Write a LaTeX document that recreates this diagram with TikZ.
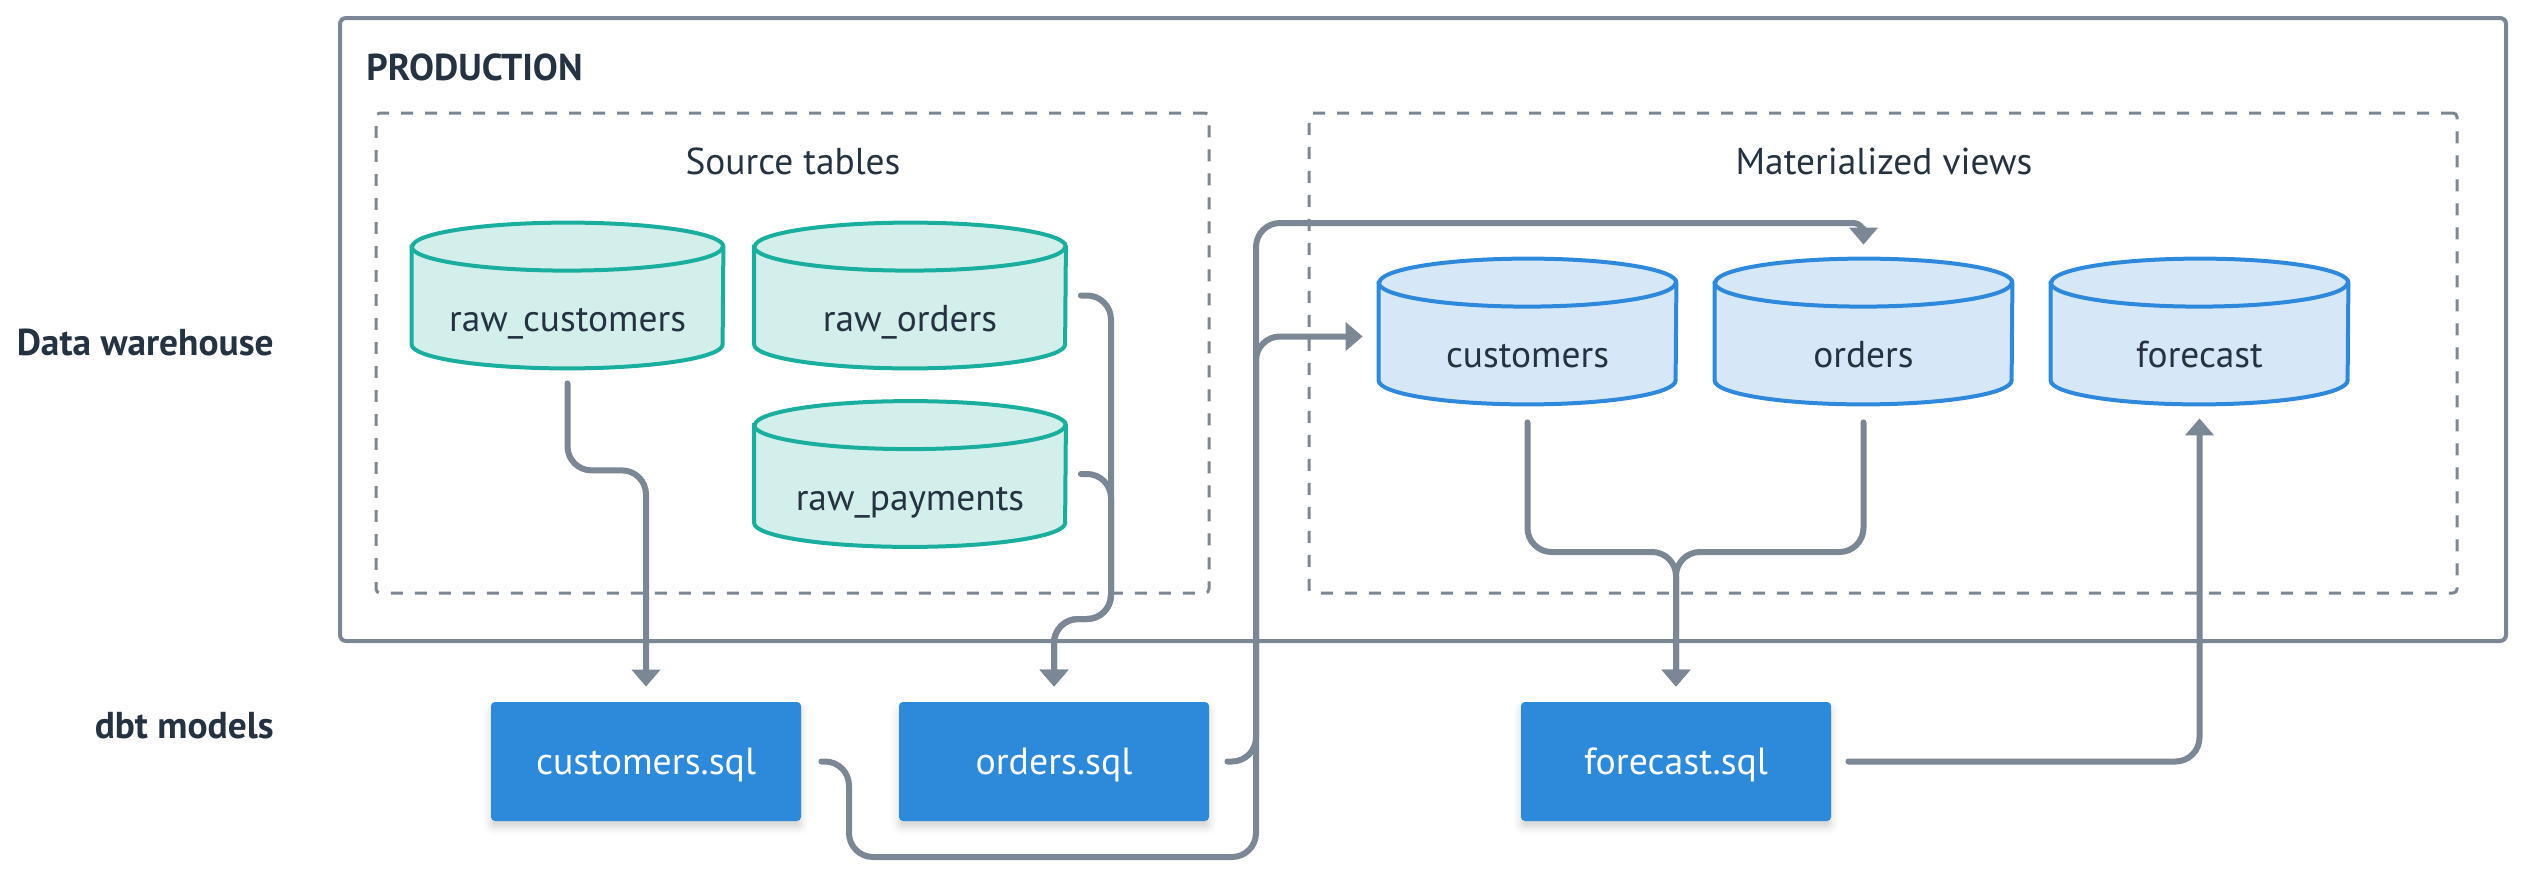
\documentclass[tikz,border=0pt]{standalone}
\usepackage{fontspec}
\setmainfont{PT Sans}
\usetikzlibrary{arrows.meta,calc,shadows.blur}
\definecolor{lineg}{HTML}{7B8794}
\definecolor{txt}{HTML}{243241}
\definecolor{tealS}{HTML}{1AAE9F}
\definecolor{tealF}{HTML}{D3EFEC}
\definecolor{blueS}{HTML}{2E88DB}
\definecolor{blueF}{HTML}{D6E7F7}
\definecolor{dbtF}{HTML}{2D89DA}
\newcommand\mycyl[4]{%
  \draw[fill=#2, draw=#3, line width=2pt]
    ($(#1.north west)+(0,24)$) -- ($(#1.south west)+(0,-24)$)
    arc[start angle=180, end angle=360, x radius=#4, y radius=12pt]
    -- ($(#1.north east)+(0,24)$)
    arc[start angle=0, end angle=180, x radius=#4, y radius=12pt] -- cycle;
  \draw[draw=#3, line width=2pt] ($(#1.north west)+(0,24)$)
    arc[start angle=180, end angle=360, x radius=#4, y radius=12pt];
}
\begin{document}
\begin{tikzpicture}[x=0.5pt,y=-0.5pt,
  lbl/.style={text=txt, font=\fontsize{18.7}{22}\selectfont, inner sep=0pt},
  blbl/.style={text=txt, font=\fontsize{18.7}{22}\selectfont\bfseries, inner sep=0pt},
  tcyl/.style={minimum width=155.5pt, minimum height=72.5pt, inner sep=0pt},
  bcyl/.style={minimum width=148.5pt, minimum height=72.5pt, inner sep=0pt},
  dbt/.style={fill=dbtF, rounded corners=2pt, minimum width=155pt, minimum height=59.5pt,
    text=white, font=\fontsize{18.9}{22}\selectfont, inner sep=0pt, text depth=0pt,
    blur shadow={shadow xshift=0pt, shadow yshift=-3pt, shadow opacity=18, shadow blur radius=4pt}},
  grp/.style={draw=lineg, line width=1.5pt, dash pattern=on 6pt off 6pt, rounded corners=2pt, inner sep=0pt},
  conn/.style={draw=lineg, line width=3pt, line cap=round, rounded corners=12pt,
    -{Triangle[length=8.5pt,width=14pt]}},
]
\useasboundingbox (0,0) rectangle (2524,884);
% frames
\node[draw=lineg, line width=2pt, rounded corners=3pt, minimum width=1083pt, minimum height=311.5pt, inner sep=0pt] (prod) at (1423,329.5) {};
\node[grp, minimum width=416.5pt, minimum height=240pt] (src) at (792.5,353) {};
\node[grp, minimum width=574pt, minimum height=240pt] (mat) at (1883,353) {};
% labels
\node[blbl, anchor=base west] (prodl) at (366,80) {PRODUCTION};
\node[lbl, anchor=base] (srcl) at (793,174) {Source tables};
\node[lbl, anchor=base] (matl) at (1884,174) {Materialized views};
\node[blbl, anchor=base east] (dwl) at (274,355) {Data warehouse};
\node[blbl, anchor=base east] (dbtl) at (274,738) {dbt models};
% source cylinders
\node[tcyl] (rawc) at (567.5,295.5) {};
\node[tcyl] (rawo) at (910,295.5) {};
\node[tcyl] (rawp) at (910,474) {};
\mycyl{rawc}{tealF}{tealS}{77.75pt}
\mycyl{rawo}{tealF}{tealS}{77.75pt}
\mycyl{rawp}{tealF}{tealS}{77.75pt}
\node[lbl, anchor=base] (rawct) at ($(rawc.center)+(0,36)$) {raw\_customers};
\node[lbl, anchor=base] (rawot) at ($(rawo.center)+(0,36)$) {raw\_orders};
\node[lbl, anchor=base] (rawpt) at ($(rawp.center)+(0,36)$) {raw\_payments};
% materialized cylinders
\node[bcyl] (cust) at (1527.5,331.5) {};
\node[bcyl] (ord) at (1863.5,331.5) {};
\node[bcyl] (fc) at (2199.5,331.5) {};
\mycyl{cust}{blueF}{blueS}{74.25pt}
\mycyl{ord}{blueF}{blueS}{74.25pt}
\mycyl{fc}{blueF}{blueS}{74.25pt}
\node[lbl, anchor=base] (custt) at ($(cust.center)+(0,36)$) {customers};
\node[lbl, anchor=base] (ordt) at ($(ord.center)+(0,36)$) {orders};
\node[lbl, anchor=base] (fct) at ($(fc.center)+(0,36)$) {forecast};
% dbt models
\node[dbt] (custsql) at (646,761.5) {customers.sql};
\node[dbt] (ordsql) at (1054,761.5) {orders.sql};
\node[dbt] (fcsql) at (1676,761.5) {forecast.sql};
% helper coordinates
\coordinate (ob) at (1111,619);
\coordinate (c1) at (849,857);
\coordinate (c2) at (1256,857);
\coordinate (c3) at (1256,223);
\coordinate (m) at (1676,552);
% connectors
\draw[conn] ($(rawc.south)+(0,15)$) -- ++(0,87) -| ($(custsql.north)+(0,-15)$);
\draw[conn] ($(rawo.east)+(15,0)$) -| (ob) -| ($(ordsql.north)+(0,-15)$);
\draw[conn] ($(rawp.east)+(15,0)$) -| (ob) -| ($(ordsql.north)+(0,-15)$);
\draw[conn] ($(custsql.east)+(20,0)$) -| (c1) -- (c2) |- ($(cust.west)+(-16,5)$);
\draw[conn] ($(ordsql.east)+(18,0)$) -| (c3) [rounded corners=5pt] -| ($(ord.north)+(0,-14)$);
\draw[conn] ($(cust.south)+(0,18)$) |- (m) -- ($(fcsql.north)+(0,-15)$);
\draw[conn] ($(ord.south)+(0,18)$) |- (m) -- ($(fcsql.north)+(0,-15)$);
\draw[conn] ($(fcsql.east)+(17,0)$) -| ($(fc.south)+(0,14)$);
\end{tikzpicture}
\end{document}
